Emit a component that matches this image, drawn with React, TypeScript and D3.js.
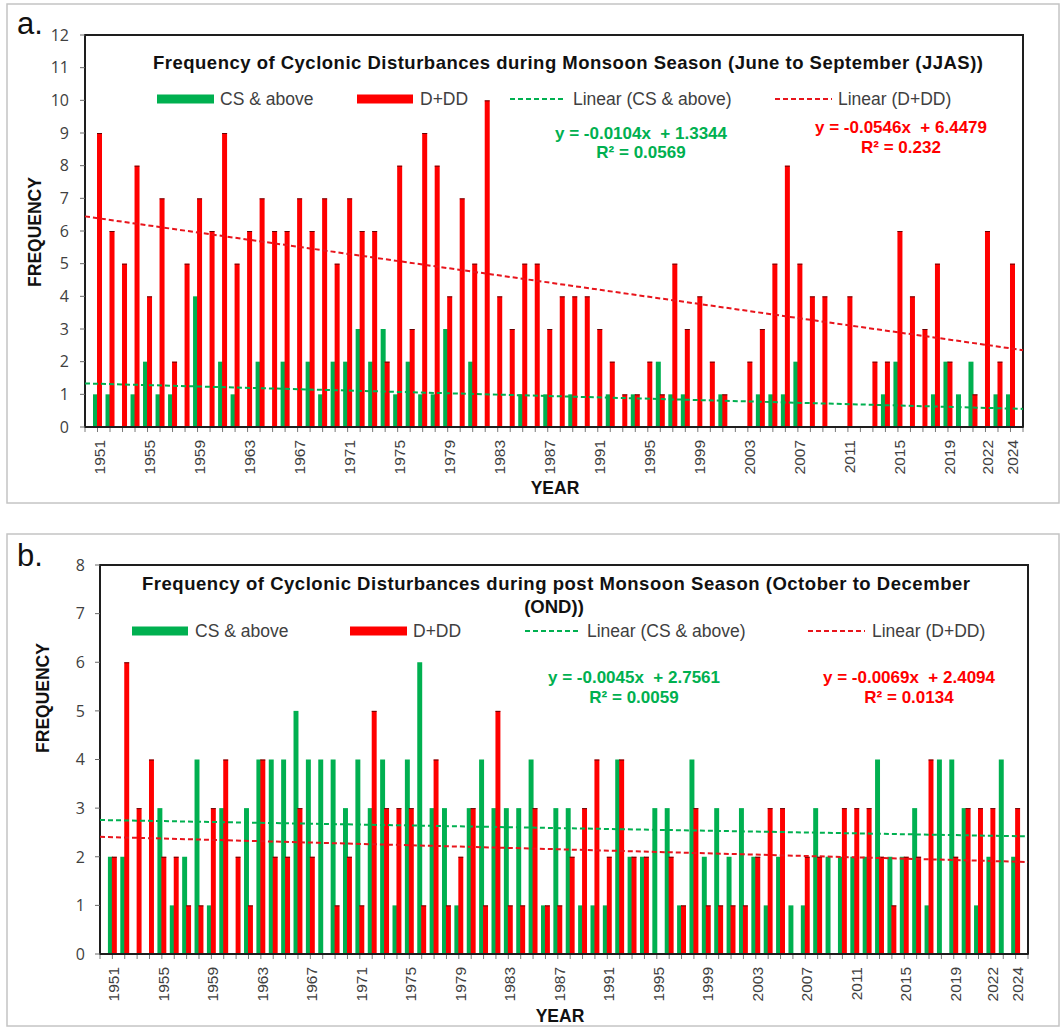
import React from 'react';
import * as d3 from 'd3';

// Categories: one bar pair per year
const YEARS: number[] = d3.range(1951, 2025);

// Monsoon season (JJAS) counts
const JJAS_CS = [
  1, 1, 0, 1, 2, 1, 1, 0, 4, 0,
  2, 1, 0, 2, 0, 2, 0, 2, 1, 2,
  2, 3, 2, 3, 1, 2, 1, 1, 3, 0,
  2, 0, 0, 0, 1, 0, 1, 0, 1, 0,
  0, 1, 0, 1, 0, 2, 1, 1, 0, 0,
  1, 0, 0, 1, 1, 1, 2, 0, 0, 0,
  0, 0, 0, 1, 2, 0, 0, 1, 2, 1,
  2, 0, 1, 1,
];
const JJAS_DDD = [
  9, 6, 5, 8, 4, 7, 2, 5, 7, 6,
  9, 5, 6, 7, 6, 6, 7, 6, 7, 5,
  7, 6, 6, 2, 8, 3, 9, 8, 4, 7,
  5, 10, 4, 3, 5, 5, 3, 4, 4, 4,
  3, 2, 1, 1, 2, 1, 5, 3, 4, 2,
  1, 0, 2, 3, 5, 8, 5, 4, 4, 0,
  4, 0, 2, 2, 6, 4, 3, 5, 2, 0,
  1, 6, 2, 5,
];

// Post-monsoon season (OND) counts
const OND_CS = [
  2, 2, 0, 0, 3, 1, 2, 4, 1, 3,
  0, 3, 4, 4, 4, 5, 4, 4, 4, 3,
  4, 3, 4, 1, 4, 6, 3, 3, 1, 3,
  4, 3, 3, 3, 4, 1, 3, 3, 1, 1,
  1, 4, 2, 2, 3, 3, 1, 4, 2, 3,
  2, 3, 2, 1, 2, 1, 1, 3, 2, 2,
  2, 2, 4, 2, 2, 3, 1, 4, 4, 3,
  1, 2, 4, 2,
];
const OND_DDD = [
  2, 6, 3, 4, 2, 2, 1, 1, 3, 4,
  2, 1, 4, 2, 2, 3, 2, 0, 1, 2,
  1, 5, 3, 3, 3, 1, 4, 1, 2, 3,
  1, 5, 1, 1, 3, 1, 1, 2, 3, 4,
  2, 4, 2, 2, 0, 2, 1, 3, 1, 1,
  1, 1, 2, 3, 3, 0, 2, 2, 0, 3,
  3, 3, 2, 1, 2, 2, 4, 0, 2, 3,
  3, 3, 0, 3,
];

// Year labels shown under the axis
const TICK_YEARS = [1951, 1955, 1959, 1963, 1967, 1971, 1975, 1979, 1983, 1987, 1991, 1995, 1999, 2003, 2007, 2011, 2015, 2019, 2022, 2024];

// Linear trend fits (x = 1 for 1951)
const JJAS_CS_FIT = { slope: -0.0104, intercept: 1.3344, r2: '0.0569' };
const JJAS_DDD_FIT = { slope: -0.0546, intercept: 6.4479, r2: '0.232' };
const OND_CS_FIT = { slope: -0.0045, intercept: 2.7561, r2: '0.0059' };
const OND_DDD_FIT = { slope: -0.0069, intercept: 2.4094, r2: '0.0134' };

const SERIES_NAMES = ['CS & above', 'D+DD'];

const GREEN = '#00B050';
const RED = '#FF0000';
const TREND_RED = '#E8141B';
const FONT = '"Liberation Sans", Arial, sans-serif';
const TICK_FONT = '"Open Sans", "Liberation Sans", sans-serif';
const TEXT_GRAY = '#404040';

type Fit = { slope: number; intercept: number; r2: string };

function fmtEq(f: Fit) {
  const b = f.intercept.toFixed(4);
  return `y = ${f.slope.toFixed(4)}x  + ${b}`;
}

function Panel(props: any) {
  const { L, cs, ddd, csFit, dddFit } = props;
  const x = d3.scaleLinear().domain([1950, 2025]).range([L.left, L.right]);
  const y = d3.scaleLinear().domain([0, L.yMax]).range([L.bottom, L.top]);
  const step = x(1951) - x(1950);
  const bw = step * 0.4;
  const yTicks = d3.range(0, L.yMax + 1);
  const xTickYears = d3.range(1950, 2026);

  const trendPath = (f: Fit) =>
    d3.line<number>()
      .x((yr) => x(yr))
      .y((yr) => y(f.slope * (yr - 1950) + f.intercept))([1950, 2025]) as string;

  const lg = L.legend;

  return (
    <g>
      <rect x={L.border.x} y={L.border.y} width={L.border.w} height={L.border.h} fill="#fff" stroke="#c4c4c4" strokeWidth={1.5} />
      <text x={L.letter.x} y={L.letter.y} fontFamily={FONT} fontSize={31} fill="#111">{L.letter.text}</text>

      {/* plot area frame */}
      <rect x={L.left} y={L.top} width={L.right - L.left} height={L.bottom - L.top} fill="#fff" stroke="#1e1e1e" strokeWidth={2} />

      {/* y axis ticks + labels */}
      {yTicks.map((v) => (
        <g key={'y' + v}>
          <line x1={L.left - 5} x2={L.left} y1={y(v)} y2={y(v)} stroke="#6a6a6a" strokeWidth={1} />
          <text x={L.yLabelX} y={y(v)} dy="0.36em" textAnchor="end" fontFamily={TICK_FONT} fontSize={16} fill={TEXT_GRAY}>{v}</text>
        </g>
      ))}

      {/* x axis ticks */}
      {xTickYears.map((yr) => (
        <line key={'xt' + yr} x1={x(yr)} x2={x(yr)} y1={L.bottom} y2={L.bottom + 5} stroke="#7a7a7a" strokeWidth={1} />
      ))}
      {TICK_YEARS.map((yr) => (
        <text key={'xl' + yr} transform={`translate(${x(yr) + 1.5},${L.xLabelY}) rotate(-90)`} dy="0.36em" textAnchor="end" fontFamily={FONT} fontSize={15.5} fill={TEXT_GRAY}>{yr}</text>
      ))}

      {/* bars */}
      {YEARS.map((yr, i) => (
        cs[i] > 0 ? <rect key={'g' + yr} x={x(yr) - bw * 0.9} width={bw} y={y(cs[i])} height={y(0) - y(cs[i])} fill={GREEN} /> : null
      ))}
      {YEARS.map((yr, i) => (
        ddd[i] > 0 ? (
          <g key={'r' + yr}>
            <rect x={x(yr) - bw * 0.1} width={bw} y={y(ddd[i])} height={y(0) - y(ddd[i])} fill={RED} />
            <line x1={x(yr) - bw * 0.1} x2={x(yr) + bw * 0.9} y1={y(ddd[i]) + 0.5} y2={y(ddd[i]) + 0.5} stroke="#2a0000" strokeOpacity={0.7} strokeWidth={1} />
          </g>
        ) : null
      ))}
      <line x1={L.left} x2={L.right} y1={L.bottom} y2={L.bottom} stroke="#1e1e1e" strokeWidth={2} />

      {/* trend lines */}
      <path d={trendPath(csFit)} fill="none" stroke={GREEN} strokeWidth={2} strokeDasharray="5,3" />
      <path d={trendPath(dddFit)} fill="none" stroke={TREND_RED} strokeWidth={2} strokeDasharray="5,3" />

      {/* title */}
      {L.title.map((t: any, k: number) => (
        <text key={'t' + k} x={t.x} y={t.y} textAnchor="middle" fontFamily={FONT} fontWeight="bold" fontSize={18.5} fill="#111"
          {...(t.len ? { textLength: t.len, lengthAdjust: 'spacing' } : {})}>{t.text}</text>
      ))}

      {/* legend */}
      <rect x={lg.greenSw[0]} y={lg.y - 4.5} width={lg.greenSw[1] - lg.greenSw[0]} height={9} fill={GREEN} />
      <text x={lg.csText} y={lg.y} dy="0.36em" fontFamily={FONT} fontSize={17.5} fill={TEXT_GRAY}>{SERIES_NAMES[0]}</text>
      <rect x={lg.redSw[0]} y={lg.y - 4.5} width={lg.redSw[1] - lg.redSw[0]} height={9} fill={RED} />
      <text x={lg.dddText} y={lg.y} dy="0.36em" fontFamily={FONT} fontSize={17.5} fill={TEXT_GRAY}>{SERIES_NAMES[1]}</text>
      <line x1={lg.greenDash[0]} x2={lg.greenDash[1]} y1={lg.y} y2={lg.y} stroke={GREEN} strokeWidth={2} strokeDasharray="5,3" />
      <text x={lg.linCsText} y={lg.y} dy="0.36em" fontFamily={FONT} fontSize={17.5} fill={TEXT_GRAY}>{`Linear (${SERIES_NAMES[0]})`}</text>
      <line x1={lg.redDash[0]} x2={lg.redDash[1]} y1={lg.y} y2={lg.y} stroke={TREND_RED} strokeWidth={2} strokeDasharray="5,3" />
      <text x={lg.linDddText} y={lg.y} dy="0.36em" fontFamily={FONT} fontSize={17.5} fill={TEXT_GRAY}>{`Linear (${SERIES_NAMES[1]})`}</text>

      {/* trend equations */}
      <text x={L.eqGreen.cx} y={L.eqGreen.y1} textAnchor="middle" fontFamily={FONT} fontWeight="bold" fontSize={17} fill={GREEN} style={{ whiteSpace: 'pre' }}>{fmtEq(csFit)}</text>
      <text x={L.eqGreen.cx} y={L.eqGreen.y2} textAnchor="middle" fontFamily={FONT} fontWeight="bold" fontSize={17} fill={GREEN}>{`R² = ${csFit.r2}`}</text>
      <text x={L.eqRed.cx} y={L.eqRed.y1} textAnchor="middle" fontFamily={FONT} fontWeight="bold" fontSize={17} fill={RED} style={{ whiteSpace: 'pre' }}>{fmtEq(dddFit)}</text>
      <text x={L.eqRed.cx} y={L.eqRed.y2} textAnchor="middle" fontFamily={FONT} fontWeight="bold" fontSize={17} fill={RED}>{`R² = ${dddFit.r2}`}</text>

      {/* axis titles */}
      <text transform={`translate(${L.freq.x},${L.freq.y}) rotate(-90)`} dy="0.36em" textAnchor="middle" fontFamily={FONT} fontWeight="bold" fontSize={17.5} fill="#111">FREQUENCY</text>
      <text x={L.yearTitle.x} y={L.yearTitle.y} textAnchor="middle" fontFamily={FONT} fontWeight="bold" fontSize={17.5} fill="#111">YEAR</text>
    </g>
  );
}

const LAYOUT_A = {
  border: { x: 7, y: 4, w: 1052, h: 499 },
  letter: { x: 17, y: 34, text: 'a.' },
  left: 85, right: 1023, top: 35, bottom: 427, yMax: 12,
  yLabelX: 69,
  xLabelY: 440,
  freq: { x: 35, y: 232 },
  yearTitle: { x: 555, y: 494 },
  title: [{ text: 'Frequency of Cyclonic Disturbances during Monsoon Season (June to September (JJAS))', x: 568, y: 69, len: 830 }],
  legend: { y: 99, greenSw: [157, 214], csText: 220, redSw: [357, 413], dddText: 420, greenDash: [510, 566], linCsText: 573, redDash: [775, 832], linDddText: 838 },
  eqGreen: { cx: 641, y1: 139, y2: 158 },
  eqRed: { cx: 901, y1: 133, y2: 153 },
};

const LAYOUT_B = {
  border: { x: 7, y: 534, w: 1052, h: 492 },
  letter: { x: 17, y: 566, text: 'b.' },
  left: 100, right: 1028, top: 565, bottom: 954, yMax: 8,
  yLabelX: 85,
  xLabelY: 967,
  freq: { x: 43, y: 698 },
  yearTitle: { x: 560, y: 1022 },
  title: [
    { text: 'Frequency of Cyclonic Disturbances during post Monsoon Season (October to December', x: 556, y: 590, len: 828 },
    { text: '(OND))', x: 554, y: 613 },
  ],
  legend: { y: 631, greenSw: [132, 188], csText: 195, redSw: [350, 407], dddText: 413, greenDash: [525, 581], linCsText: 587, redDash: [808, 865], linDddText: 872 },
  eqGreen: { cx: 634, y1: 683, y2: 703 },
  eqRed: { cx: 909, y1: 683, y2: 703 },
};

export default function App() {
  return (
    <div style={{ position: 'absolute', left: 0, top: 0 }}>
      <svg width={1061} height={1028} style={{ display: 'block', background: '#fff' }}>
        <Panel L={LAYOUT_A} cs={JJAS_CS} ddd={JJAS_DDD} csFit={JJAS_CS_FIT} dddFit={JJAS_DDD_FIT} />
        <Panel L={LAYOUT_B} cs={OND_CS} ddd={OND_DDD} csFit={OND_CS_FIT} dddFit={OND_DDD_FIT} />
      </svg>
    </div>
  );
}
